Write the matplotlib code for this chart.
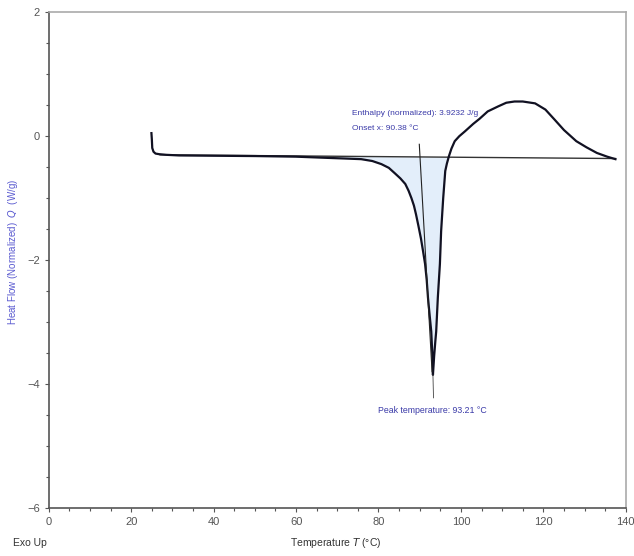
import matplotlib.pyplot as plt
import numpy as np

# DSC curve
temp = [24.9, 25.0, 25.1, 25.4, 25.9, 26.8, 28.5, 31.6, 40, 50, 60, 67.9, 72, 75.8,
        78.5, 80.7, 82.5, 84.0, 85.3, 86.5, 87.3, 88.0, 88.6, 89.1, 89.7, 90.3, 90.8,
        91.3, 91.7, 92.0, 92.4, 92.8, 93.05, 93.21, 93.5, 93.8, 94.0, 94.4, 94.9, 95.2,
        95.7, 96.2, 96.6, 97.1, 97.7, 98.5, 99.6, 101, 103, 104.5, 106.5, 109, 111, 113,
        115, 118, 120.5, 122.7, 125, 128, 130.5, 133, 135.5, 137.5]
heat = [0.05, -0.05, -0.19, -0.25, -0.28, -0.29, -0.30, -0.31, -0.315, -0.32, -0.33, -0.35, -0.36, -0.37,
        -0.40, -0.45, -0.51, -0.60, -0.68, -0.77, -0.88, -1.00, -1.12, -1.26, -1.45, -1.65, -1.85,
        -2.06, -2.32, -2.60, -2.88, -3.15, -3.50, -3.85, -3.55, -3.30, -3.15, -2.60, -2.06, -1.53,
        -1.00, -0.56, -0.44, -0.32, -0.20, -0.08, 0.00, 0.08, 0.20, 0.28, 0.40, 0.48, 0.54, 0.56,
        0.56, 0.53, 0.43, 0.27, 0.10, -0.08, -0.18, -0.27, -0.33, -0.37]

base_x = [27.0, 137.5]
base_y = [-0.30, -0.36]

onset_x = [89.9, 93.0]
onset_y = [-0.13, -3.80]

peak_x = [93.21, 93.35]
peak_y = [-3.85, -4.22]

enthalpy_txt = "Enthalpy (normalized): 3.9232 J/g"
onset_txt = "Onset x: 90.38 °C"
peak_txt = "Peak temperature: 93.21 °C"

txt_blue = "#3a3aa8"
grey = "#555555"

plt.rcParams['font.family'] = ['Liberation Sans', 'DejaVu Sans']

fig = plt.figure(figsize=(6.34, 5.56), dpi=100)
ax = fig.add_axes([0.077, 0.086, 0.910, 0.892])

t = np.array(temp)
h = np.array(heat)
bl = np.interp(t, base_x, base_y)
mask = (t > 55) & (t < 98)
ax.fill_between(t[mask], h[mask], bl[mask], where=h[mask] <= bl[mask],
                color="#e3eefa", lw=0, interpolate=True, zorder=1)

ax.plot(base_x, base_y, color="#333333", lw=1.0, zorder=2)
ax.plot(temp, heat, color="#111122", lw=1.6, zorder=3)
ax.plot(onset_x, onset_y, color="#222222", lw=0.8, zorder=3)
ax.plot(peak_x, peak_y, color="#444444", lw=0.6, zorder=3)

fs = 6.0
ax.text(73.6, 0.36, enthalpy_txt, color=txt_blue, fontsize=fs, va="center")
ax.text(73.6, 0.13, onset_txt, color=txt_blue, fontsize=fs, va="center")
ax.text(80.0, -4.42, peak_txt, color=txt_blue, fontsize=6.3, va="center")

ax.set_xlim(0, 140)
ax.set_ylim(-6, 2)
ax.set_xticks(np.arange(0, 141, 20))
ax.set_xticks(np.arange(0, 141, 5), minor=True)
ax.set_yticks(np.arange(-6, 2.1, 2))
ax.set_yticks(np.arange(-6, 2.1, 0.5), minor=True)
ax.tick_params(which="both", direction="out", colors=grey, labelsize=8)
ax.tick_params(which="major", length=3, width=0.8)
ax.tick_params(which="minor", length=2.5, width=0.8)

ax.spines["left"].set_color(grey)
ax.spines["bottom"].set_color(grey)
ax.spines["top"].set_color("#aaaaaa")
ax.spines["right"].set_color("#aaaaaa")
for s in ax.spines.values():
    s.set_linewidth(1.2)

fig.text(0.530, 0.023, "Temperature $T$ (°C)", ha="center", va="center",
         fontsize=7.5, color="#333333")
fig.text(0.020, 0.023, "Exo Up", ha="left", va="center", fontsize=7.5, color="#333333")
fig.text(0.021, 0.547, "Heat Flow (Normalized)  $Q$  (W/g)", rotation=90,
         ha="center", va="center", fontsize=7, color="#5a5ad0")

fig.savefig("out.png", dpi=100, facecolor="white")
